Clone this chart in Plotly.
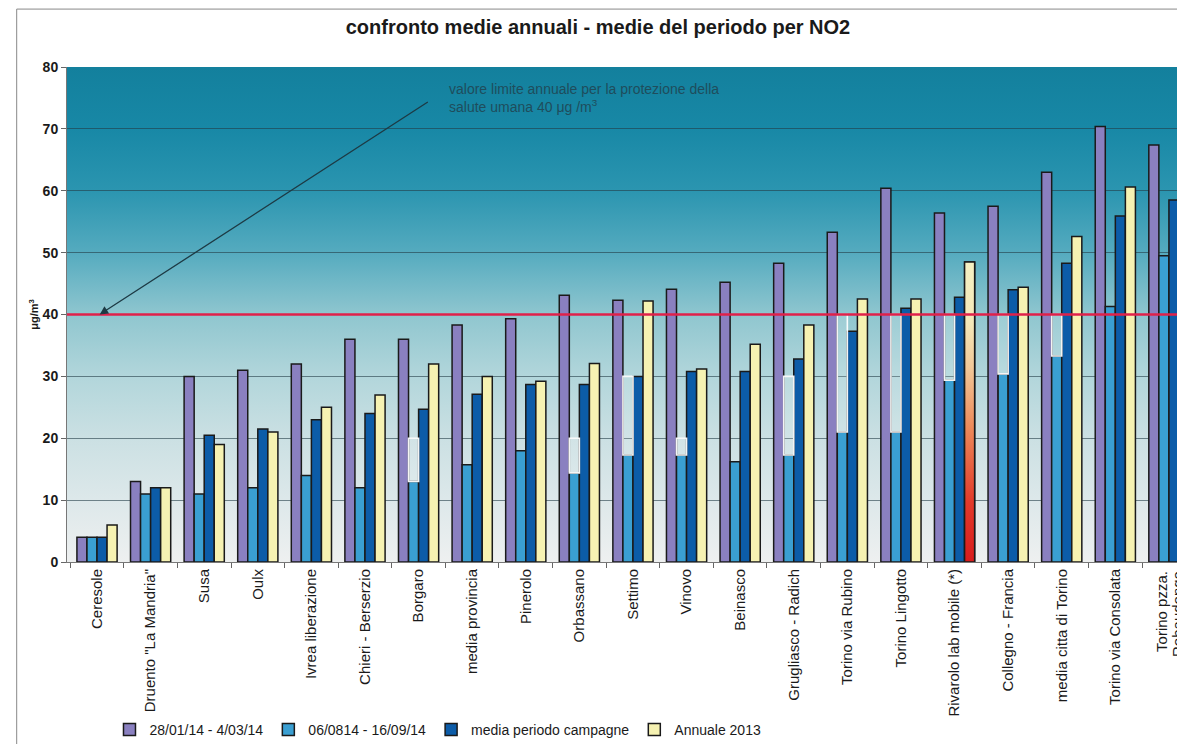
import base64
import plotly.graph_objects as go

# ---------------- data ----------------
stazioni = ["Ceresole", 'Druento "La Mandria"', "Susa", "Oulx", "Ivrea liberazione",
            "Chieri - Berserzio", "Borgaro", "media provincia", "Pinerolo", "Orbassano",
            "Settimo", "Vinovo", "Beinasco", "Grugliasco - Radich", "Torino via Rubino",
            "Torino Lingotto", "Rivarolo lab mobile (*)", "Collegno - Francia",
            "media citta di Torino", "Torino via Consolata", "Torino pzza.<br>Rebaudengo"]

inverno_2014 = [4, 13, 30, 31, 32, 36, 36, 38.3, 39.3, 43.1, 42.3, 44.1, 45.2, 48.3,
                53.3, 60.4, 56.4, 57.5, 63, 70.4, 67.4]
estate_2014 = [4, 11, 11, 12, 14, 12, 13, 15.7, 18, 14.4, 17.3, 17.3, 16.2, 17.3,
               21, 21, 29.4, 30.4, 33.3, 41.3, 49.5]
media_campagne = [4, 12, 20.5, 21.5, 23, 24, 24.7, 27.1, 28.7, 28.7, 30, 30.8, 30.8, 32.8,
                  37.3, 41, 42.8, 44, 48.3, 55.9, 58.5]
annuale_2013 = [6, 12, 19, 21, 25, 27, 32, 30, 29.2, 32.1, 42.2, 31.2, 35.2, 38.3,
                42.5, 42.5, 48.5, 44.4, 52.6, 60.6, 65.4]
# white outlined boxes visible above some light-blue bars in the source
riquadri = [None, None, None, None, None, None, 20, None, None, 20, 30, 20, None, 30,
            40, 40, 40, 40, 40, None, None]

serie_nomi = ["28/01/14 - 4/03/14", "06/0814 - 16/09/14", "media periodo campagne", "Annuale 2013"]
LIMITE = 40
stazione_evidenziata = "Rivarolo lab mobile (*)"

# ---------------- styles ----------------
colori = ["#8a80c0", "#3a9fd2", "#0c5ca8", "#f6f2b2"]
W = 0.1875
offsets = [-2 * W, -W, 0, W]
x = list(range(len(stazioni)))

fig = go.Figure()

for vals, nome, col, off in zip([inverno_2014, estate_2014, media_campagne, annuale_2013],
                                serie_nomi, colori, offsets):
    fig.add_trace(go.Bar(x=x, y=vals, name=nome, width=W, offset=off,
                         marker=dict(color=col, line=dict(color="#1a1a1a", width=1.5))))

# boxes above light-blue bars
box_base = [l if b is not None else None for l, b in zip(estate_2014, riquadri)]
box_h = [(b - l) if b is not None else None for l, b in zip(estate_2014, riquadri)]
fig.add_trace(go.Bar(x=x, y=box_h, base=box_base, width=W, offset=-W, showlegend=False,
                     hoverinfo="skip",
                     marker=dict(color="rgba(255,255,255,0.12)",
                                 line=dict(color="rgba(255,255,255,0.95)", width=1.6))))

# gradient-coloured bar (Rivarolo, annual 2013)
i_r = stazioni.index(stazione_evidenziata)
v_r = annuale_2013[i_r]
x0 = i_r + offsets[3]
x1 = x0 + W
fig.add_trace(go.Scatter(x=[x0, x1, x1, x0, x0], y=[0, 0, v_r, v_r, 0], mode="lines",
                         fill="toself", showlegend=False, hoverinfo="skip",
                         line=dict(color="#1a1a1a", width=1.5),
                         fillgradient=dict(type="vertical", start=0, stop=v_r,
                                           colorscale=[[0, "#d81c1c"], [0.2, "#e23a2a"],
                                                       [0.45, "#ec8a5a"], [0.65, "#f2c898"],
                                                       [0.8, "#f4e8b8"], [1, "#f5f0c2"]])))

# background gradient image
svg = ('<svg xmlns="http://www.w3.org/2000/svg" width="10" height="100" viewBox="0 0 10 100" '
       'preserveAspectRatio="none"><defs><linearGradient id="g" x1="0" y1="0" x2="0" y2="1">'
       '<stop offset="0" stop-color="#13809d"/>'
       '<stop offset="0.125" stop-color="#1888a6"/>'
       '<stop offset="0.25" stop-color="#2b95b0"/>'
       '<stop offset="0.375" stop-color="#55abbf"/>'
       '<stop offset="0.5" stop-color="#8fc6cf"/>'
       '<stop offset="0.625" stop-color="#b2d6db"/>'
       '<stop offset="0.75" stop-color="#cbe0e3"/>'
       '<stop offset="0.875" stop-color="#dde8ea"/>'
       '<stop offset="1" stop-color="#eef0f0"/>'
       '</linearGradient></defs><rect width="10" height="100" fill="url(#g)"/></svg>')
src = "data:image/svg+xml;base64," + base64.b64encode(svg.encode()).decode()

# multi-line labels are written as separate rotated lines (tighter line spacing)
ticktext = [t if "<br>" not in t else "" for t in stazioni]

FIG_W, FIG_H = 1177, 736
fig.update_layout(
    width=FIG_W, height=FIG_H,
    margin=dict(l=59, r=0, t=59, b=182, autoexpand=False),
    paper_bgcolor="white", plot_bgcolor="#eef0f0",
    barmode="overlay",
    font=dict(family="Liberation Sans, Arial, sans-serif", color="#1a1a1a"),
    title=dict(text="<b>confronto medie annuali - medie del periodo per NO2</b>",
               x=(598 - 8) / FIG_W, xanchor="center", y=1 - 19 / FIG_H, yanchor="middle",
               yref="container", font=dict(size=20, color="#1a1a1a")),
    images=[dict(source=src, xref="paper", yref="paper", x=0, y=1, sizex=1, sizey=1,
                 sizing="stretch", layer="below", xanchor="left", yanchor="top")],
    legend=dict(orientation="h", x=0.038, xanchor="left", y=-0.339, yanchor="middle",
                font=dict(size=14), bgcolor="rgba(0,0,0,0)", itemwidth=30,
                traceorder="normal"),
    showlegend=True,
)

fig.update_xaxes(range=[-0.56, 20.3], tickmode="array", tickvals=x, ticktext=ticktext,
                 tickangle=-90, tickfont=dict(size=15), ticks="", showgrid=False,
                 showline=True, linecolor="#777", linewidth=1, zeroline=False,
                 automargin=False, ticklabeloverflow="allow",
                 minor=dict(tick0=0.5, dtick=1, ticks="outside", ticklen=5, tickcolor="#666"))
fig.update_yaxes(range=[0, 80], dtick=10, showgrid=True, gridcolor="rgba(35,60,70,0.6)",
                 gridwidth=1, showline=True, linecolor="#777", ticks="outside", ticklen=5,
                 tickcolor="#666", tickfont=dict(size=14, family="Liberation Sans, Arial"),
                 tickprefix="<b>", ticksuffix="</b>", zeroline=False, automargin=False,
                 title=dict(text="<b>μg/m<sup>3</sup></b>", font=dict(size=11), standoff=1))

for i, t in enumerate(stazioni):
    if "<br>" in t:
        righe = t.split("<br>")
        for k, riga in enumerate(righe):
            fig.add_annotation(x=i - 0.14 + 0.29 * k, y=0, xref="x", yref="paper",
                               text=riga, textangle=-90, showarrow=False,
                               xanchor="center", yanchor="top", yshift=-7,
                               font=dict(size=15, color="#1a1a1a"))

# limit line
fig.add_shape(type="line", xref="paper", yref="y", x0=0, x1=1, y0=LIMITE, y1=LIMITE,
              line=dict(color="#e0204a", width=2.5), layer="above")

# annotation arrow + text
fig.add_annotation(x=0.05, y=LIMITE, ax=6.2, ay=74.5, xref="x", yref="y", axref="x", ayref="y",
                   text="", showarrow=True, arrowhead=2, arrowsize=1.3, arrowwidth=1.3,
                   arrowcolor="#1d3a44")
fig.add_annotation(x=6.53, y=75, xref="x", yref="y", xanchor="left", yanchor="middle",
                   text="valore limite annuale per la protezione della<br>salute umana 40 μg /m<sup>3</sup>",
                   showarrow=False, align="left", font=dict(size=14, color="#1f4d5c"))

# outer frame
fig.add_shape(type="rect", xref="paper", yref="paper", x0=-0.045, x1=1.05, y0=-0.42, y1=1.117,
              line=dict(color="#888", width=1), fillcolor="rgba(0,0,0,0)", layer="below")

fig.write_html("out.html")
